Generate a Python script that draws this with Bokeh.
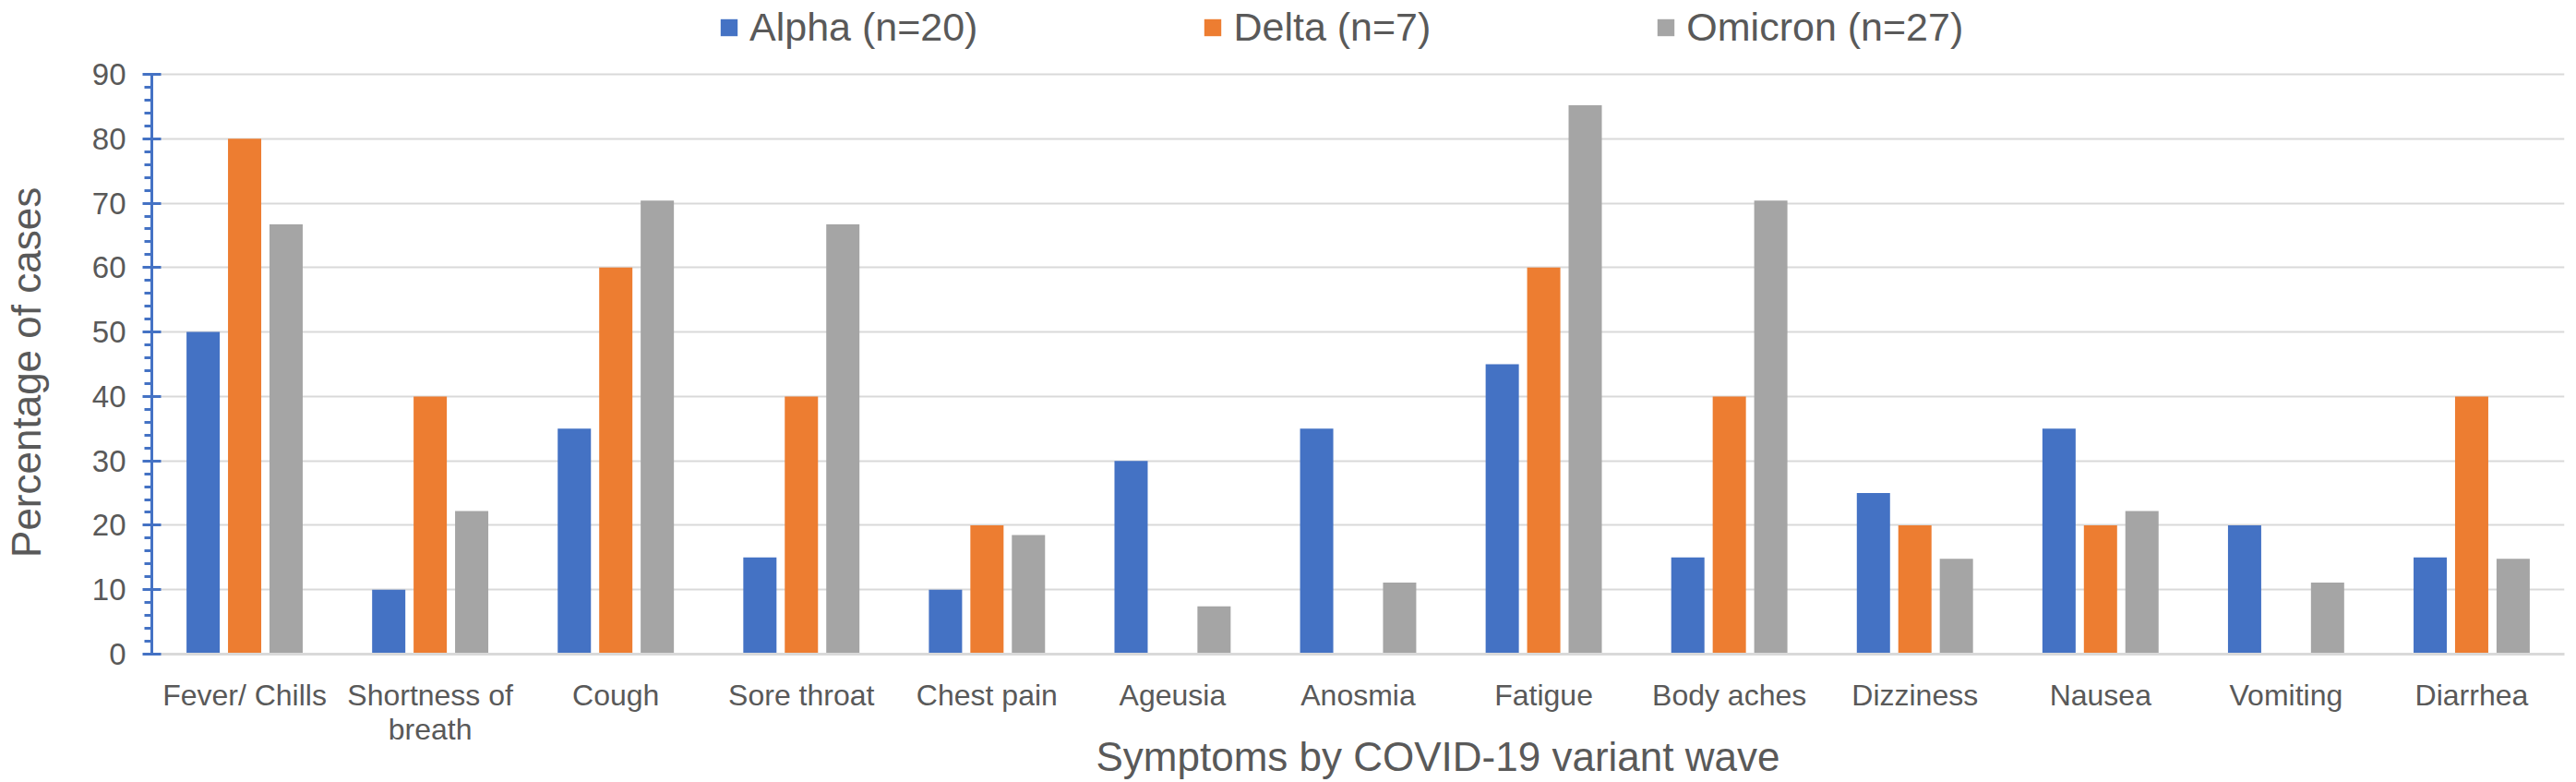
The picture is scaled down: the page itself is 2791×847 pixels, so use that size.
from bokeh.plotting import figure
from bokeh.models import (ColumnDataSource, FactorRange, Range1d, SingleIntervalTicker,
                          Legend, LegendItem, Title)
from bokeh.transform import dodge
from bokeh.embed import file_html
from bokeh.resources import INLINE

# ---- data ----
symptoms = ["Fever/ Chills", "Shortness of\nbreath", "Cough", "Sore throat", "Chest pain",
            "Ageusia", "Anosmia", "Fatigue", "Body aches", "Dizziness", "Nausea",
            "Vomiting", "Diarrhea"]
alpha = [50, 10, 35, 15, 10, 30, 35, 45, 15, 25, 35, 20, 15]
delta = [80, 40, 60, 40, 20, 0, 0, 60, 40, 20, 20, 0, 40]
omicron = [66.7, 22.2, 70.4, 66.7, 18.5, 7.4, 11.1, 85.2, 70.4, 14.8, 22.2, 11.1, 14.8]
series_names = ["Alpha (n=20)", "Delta (n=7)", "Omicron (n=27)"]
y_min, y_max = 0, 90

colors = ["#4472C4", "#ED7D31", "#A5A5A5"]
TEXT = "#595959"
FONT = "Liberation Sans"

W, H = 2788, 845
FRAME_BOTTOM = 708          # pixel row of y=0
FRAME_TOP_VALUE = y_max * FRAME_BOTTOM / (FRAME_BOTTOM - 80)   # frame reaches canvas top; 90 sits at row 80

p = figure(width=W, height=H,
           x_range=FactorRange(factors=symptoms, range_padding=0),
           y_range=Range1d(y_min, FRAME_TOP_VALUE),
           output_backend="svg", toolbar_location=None,
           min_border_left=160, min_border_right=10,
           min_border_top=0, min_border_bottom=H - FRAME_BOTTOM)
p.outline_line_color = None
p.background_fill_color = "white"

src = ColumnDataSource(dict(sym=symptoms, alpha=alpha, delta=delta, omicron=omicron))
offsets = [-0.2235, 0.0, 0.2235]
renderers = []
for key, off, col in zip(["alpha", "delta", "omicron"], offsets, colors):
    r = p.vbar(x=dodge("sym", off, range=p.x_range), top=key, bottom=0, width=0.179,
               source=src, fill_color=col, line_color=None)
    renderers.append(r)

# grid
p.xgrid.grid_line_color = None
p.ygrid.grid_line_color = "#D9D9D9"
p.ygrid.grid_line_width = 2
p.ygrid.bounds = (y_min, y_max)

# y axis
ya = p.yaxis[0]
ya.bounds = (y_min, y_max)
ya.ticker = SingleIntervalTicker(interval=10, num_minor_ticks=5)
ya.axis_line_color = "#4472C4"
ya.axis_line_width = 3
ya.major_tick_line_color = "#4472C4"
ya.major_tick_line_width = 3
ya.major_tick_in = 10
ya.major_tick_out = 10
ya.minor_tick_line_color = "#4472C4"
ya.minor_tick_line_width = 3
ya.minor_tick_in = 0
ya.minor_tick_out = 8
ya.major_label_text_font_size = "33px"
ya.major_label_text_color = TEXT
ya.major_label_text_font = FONT
ya.major_label_standoff = 18
# trailing no-break spaces move the centred label down to the middle of the 0-90 span
ya.axis_label = "Percentage of cases" + "\u00a0" * 8
ya.axis_label_text_font_size = "44px"
ya.axis_label_text_color = TEXT
ya.axis_label_text_font = FONT
ya.axis_label_text_font_style = "normal"
ya.axis_label_standoff = 44

# x axis
xa = p.xaxis[0]
xa.axis_line_color = "#D9D9D9"
xa.axis_line_width = 3
xa.major_tick_line_color = None
xa.minor_tick_line_color = None
xa.major_label_text_font_size = "32px"
xa.major_label_text_color = TEXT
xa.major_label_text_font = FONT
xa.major_label_text_line_height = 1.04
xa.major_label_standoff = 20

# x axis title, in the panel below the axis
p.add_layout(Title(text="Symptoms by COVID-19 variant wave", align="left", offset=1023,
                   vertical_align="top", standoff=-32, text_font_size="44px",
                   text_color=TEXT, text_font=FONT, text_font_style="normal"), "below")

legend = Legend(items=[LegendItem(label=n, renderers=[r]) for n, r in zip(series_names, renderers)],
                orientation="horizontal", location=(614, 654),
                border_line_color=None, background_fill_alpha=0,
                padding=0, margin=0, spacing=243,
                glyph_width=23, glyph_height=23, label_standoff=11,
                label_text_font_size="43px", label_text_color=TEXT,
                label_text_font=FONT, label_height=50)
p.add_layout(legend)

open("out.html", "w").write(file_html(p, INLINE))
